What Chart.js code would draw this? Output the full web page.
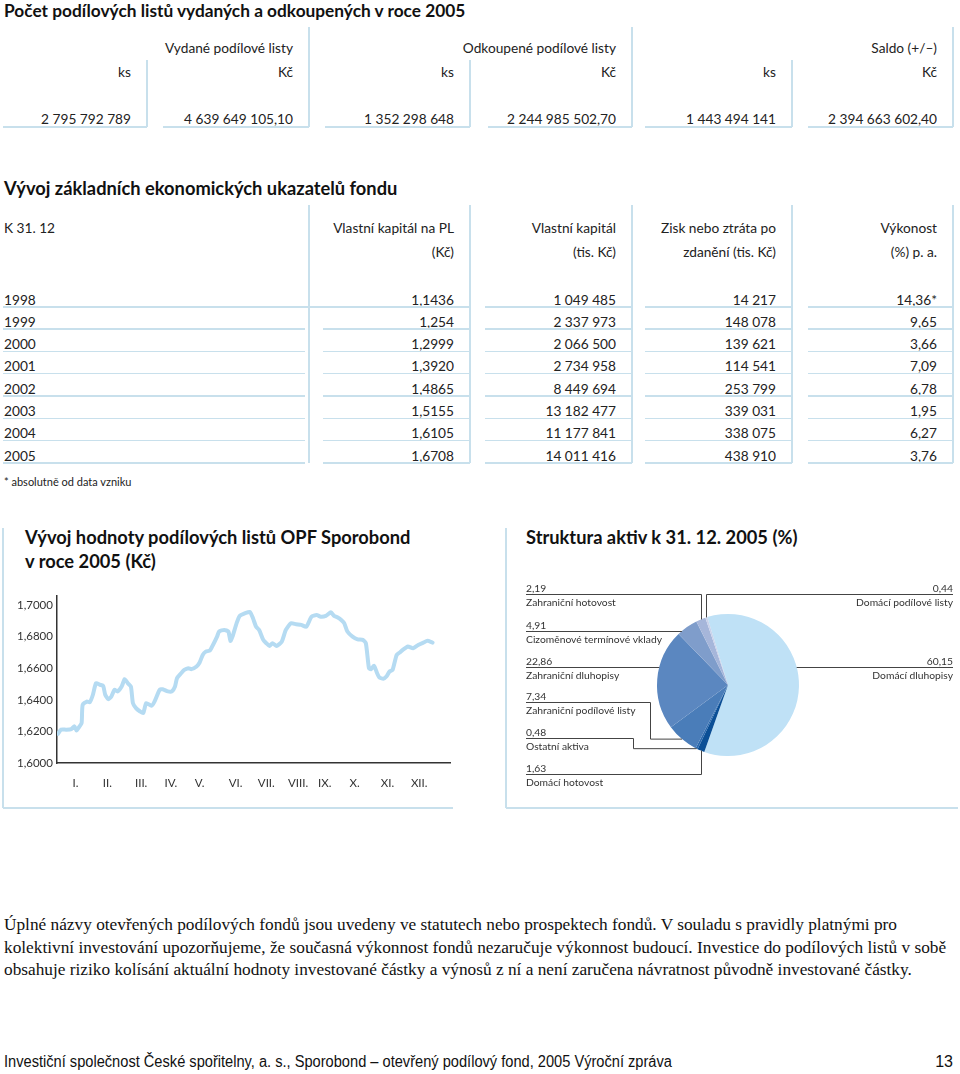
<!DOCTYPE html>
<html>
<head>
<meta charset="utf-8">
<script src="https://cdn.jsdelivr.net/npm/chart.js@4.4.0/dist/chart.umd.min.js"></script>
<style>
  body { margin: 0; width: 960px; height: 1074px; position: relative; background: #fff; overflow: hidden;
         font-family: Lato, "Noto Sans", sans-serif; color: #222; }
  .t { position: absolute; white-space: nowrap; line-height: 18px; font-size: 13.7px; }
  .h { font-size: 18.3px; font-weight: 700; color: #111; }
  .h1 { font-size: 17.3px; }
  .ln { position: absolute; background: #c8e0ec; }
  canvas { position: absolute; }
  #prose { position: absolute; left: 4px; top: 914px; font-family: "Liberation Serif", serif; font-size: 17.3px;
           line-height: 22.5px; color: #111; white-space: nowrap; }
  .foot { font-family: "Liberation Sans", sans-serif; font-size: 16px; color: #111; }
  .squeeze { transform: scaleX(0.914); transform-origin: left center; }
</style>
</head>
<body>
<div id="page"></div>
<canvas id="navChart" width="455" height="220" style="left:0;top:580px"></canvas>
<canvas id="assetChart" width="450" height="220" style="left:508px;top:580px"></canvas>
<div id="prose">Úplné názvy otevřených podílových fondů jsou uvedeny ve statutech nebo prospektech fondů. V souladu s pravidly platnými pro<br>kolektivní investování upozorňujeme, že současná výkonnost fondů nezaručuje výkonnost budoucí. Investice do podílových listů v sobě<br>obsahuje riziko kolísání aktuální hodnoty investované částky a výnosů z ní a není zaručena návratnost původně investované částky.</div>
<script>
const $ = (id) => document.getElementById(id);

// --- table 1: issued / redeemed units
const flowGroups = ["Vydané podílové listy", "Odkoupené podílové listy", "Saldo (+/–)"];
const flowUnits = ["ks", "Kč", "ks", "Kč", "ks", "Kč"];
const flowValues = ["2 795 792 789", "4 639 649 105,10", "1 352 298 648", "2 244 985 502,70", "1 443 494 141", "2 394 663 602,40"];

// --- table 2: key indicators
const indicatorHeaders = [
  ["Vlastní kapitál na PL", "(Kč)"],
  ["Vlastní kapitál", "(tis. Kč)"],
  ["Zisk nebo ztráta po", "zdanění (tis. Kč)"],
  ["Výkonost", "(%) p. a."],
];
const years = ["1998", "1999", "2000", "2001", "2002", "2003", "2004", "2005"];
const navPerUnit = ["1,1436", "1,254", "1,2999", "1,3920", "1,4865", "1,5155", "1,6105", "1,6708"];
const equity = ["1 049 485", "2 337 973", "2 066 500", "2 734 958", "8 449 694", "13 182 477", "11 177 841", "14 011 416"];
const profit = ["14 217", "148 078", "139 621", "114 541", "253 799", "339 031", "338 075", "438 910"];
const performance = ["14,36*", "9,65", "3,66", "7,09", "6,78", "1,95", "6,27", "3,76"];

// --- line chart: NAV per unit during 2005 (day of year -> Kč)
const navDays = [0, 3, 8, 13, 16, 18, 21, 23, 24, 28, 31, 34, 37, 41, 44, 46, 49, 52, 55, 58, 62, 65, 68, 71, 73, 76,
  80, 83, 86, 91, 94, 99, 102, 107, 111, 114, 116, 120, 123, 127, 130, 135, 138, 141, 144, 148, 151, 155, 157, 162,
  166, 168, 170, 174, 177, 182, 187, 190, 193, 196, 200, 203, 206, 209, 213, 218, 222, 227, 232, 237, 242, 247, 252,
  256, 261, 266, 269, 273, 276, 279, 282, 287, 292, 297, 300, 303, 305, 308, 311, 313, 317, 320, 323, 326, 330, 333,
  336, 341, 346, 351, 356, 360, 365];
const navValues = [1.6185, 1.6211, 1.6211, 1.6215, 1.6232, 1.6206, 1.6232, 1.6253, 1.6368, 1.6389, 1.6385, 1.6432,
  1.6505, 1.6495, 1.6488, 1.6432, 1.6404, 1.6421, 1.6463, 1.6453, 1.6484, 1.6531, 1.6505, 1.6484, 1.6379, 1.6347,
  1.6326, 1.6316, 1.6379, 1.6362, 1.6389, 1.6463, 1.6467, 1.6453, 1.6453, 1.6484, 1.6537, 1.6568, 1.6589, 1.6600,
  1.6594, 1.6611, 1.6636, 1.6684, 1.6705, 1.6712, 1.6747, 1.6800, 1.6832, 1.6842, 1.6832, 1.6773, 1.6800, 1.6884,
  1.6931, 1.6947, 1.6956, 1.6916, 1.6863, 1.6842, 1.6779, 1.6758, 1.6741, 1.6758, 1.6741, 1.6768, 1.6842, 1.6884,
  1.6878, 1.6874, 1.6863, 1.6926, 1.6937, 1.6926, 1.6931, 1.6954, 1.6931, 1.6920, 1.6905, 1.6884, 1.6832, 1.6800,
  1.6783, 1.6779, 1.6758, 1.6600, 1.6594, 1.6615, 1.6568, 1.6543, 1.6533, 1.6547, 1.6579, 1.6589, 1.6684, 1.6699,
  1.6716, 1.6737, 1.6726, 1.6747, 1.6762, 1.6773, 1.6762];
const monthLabels = ["I.", "II.", "III.", "IV.", "V.", "VI.", "VII.", "VIII.", "IX.", "X.", "XI.", "XII."];
const monthTickDays = [17, 48, 81, 110, 138, 173, 203, 234, 260, 289, 321, 352];
const navTicks = [1.60, 1.62, 1.64, 1.66, 1.68, 1.70];

// --- pie: asset structure (%), clockwise from the top
const assetLabels = ["Domácí dluhopisy", "Domácí hotovost", "Ostatní aktiva", "Zahraniční podílové listy",
  "Zahraniční dluhopisy", "Cizoměnové termínové vklady", "Zahraniční hotovost", "Domácí podílové listy"];
const assetValues = [60.15, 1.63, 0.48, 7.34, 22.86, 4.91, 2.19, 0.44];
const assetColors = ["#bfe1f6", "#0b4f96", "#2a68ad", "#4a7db9", "#5b87c0", "#7f9dcb", "#a6b6da", "#c9d2ea"];

// ---------- page text / table rules
const page = $("page");
function text(str, x, y, cls = "", align = "left") {
  const d = document.createElement("div");
  d.className = "t " + cls;
  d.textContent = str;
  d.style.top = (y - 9) + "px";
  if (align === "right") d.style.right = (960 - x) + "px";
  else d.style.left = x + "px";
  page.appendChild(d);
  return d;
}
function hline(x1, x2, y) {
  const d = document.createElement("div");
  d.className = "ln";
  Object.assign(d.style, { left: x1 + "px", top: y + "px", width: (x2 - x1) + "px", height: "1.5px" });
  page.appendChild(d);
}
function vline(x, y1, y2) {
  const d = document.createElement("div");
  d.className = "ln";
  Object.assign(d.style, { left: (x - 1) + "px", top: y1 + "px", width: "2px", height: (y2 - y1) + "px" });
  page.appendChild(d);
}

text("Počet podílových listů vydaných a odkoupených v roce 2005", 4, 11, "h h1");
const flowLeft = [3, 163, 325, 488, 645, 808];
const flowRight = [147, 309, 470, 632, 792, 953];
flowGroups.forEach((g, i) => text(g, flowRight[i * 2 + 1] - 16, 48, "", "right"));
flowUnits.forEach((u, i) => {
  text(u, flowRight[i] - 16, 72, "", "right");
  text(flowValues[i], flowRight[i] - 16, 119, "", "right");
  vline(flowRight[i], i % 2 ? 27 : 60, 127);
  hline(flowLeft[i], flowRight[i], 126);
});

text("Vývoj základních ekonomických ukazatelů fondu", 4, 188, "h");
text("K 31. 12", 4, 228);
const indLeft = [323, 485, 645, 808];
const indRight = [470, 632, 792, 953];
indicatorHeaders.forEach((h, i) => {
  text(h[0], indRight[i] - 16, 228, "", "right");
  text(h[1], indRight[i] - 16, 252, "", "right");
});
[309, 470, 632, 792, 953].forEach((x) => vline(x, 205, 463));
const indColumns = [navPerUnit, equity, profit, performance];
years.forEach((yr, r) => {
  const base = 306 + r * 22.3;
  text(yr, 4, base - 6.5);
  hline(3, r === 0 ? 470 : 305, base);
  indColumns.forEach((col, i) => {
    text(col[r], indRight[i] - 16, base - 6.5, "", "right");
    hline(indLeft[i], indRight[i], base);
  });
});
text("* absolutně od data vzniku", 4, 482).style.fontSize = "11px";

// chart boxes
vline(3, 528, 808); hline(3, 453, 807);
vline(506, 528, 808); hline(506, 958, 807);
text("Vývoj hodnoty podílových listů OPF Sporobond", 25, 537, "h");
text("v roce 2005 (Kč)", 25, 561, "h");
text("Struktura aktiv k 31. 12. 2005 (%)", 526, 537, "h");

text("Investiční společnost České spořitelny, a. s., Sporobond – otevřený podílový fond, 2005 Výroční zpráva", 4, 1062, "foot squeeze");
text("13", 953, 1062, "foot", "right");

// ---------- line chart
const axisFont = { family: "Lato, 'Noto Sans', sans-serif", size: 11.5 };
new Chart($("navChart").getContext("2d"), {
  type: "line",
  data: {
    datasets: [{
      data: navDays.map((d, i) => ({ x: d, y: navValues[i] })),
      borderColor: "#b5dbf2", borderWidth: 4, pointRadius: 0, tension: 0.2,
      borderJoinStyle: "round", borderCapStyle: "round",
    }],
  },
  options: {
    responsive: false, animation: false, devicePixelRatio: 1,
    layout: { padding: { top: 16, right: 5, left: 17, bottom: 0 } },
    plugins: { legend: { display: false }, tooltip: { enabled: false } },
    scales: {
      x: {
        type: "linear", min: -1, max: 382,
        afterBuildTicks: (s) => { s.ticks = monthTickDays.map((v) => ({ value: v })); },
        afterFit: (s) => { s.height = 37; },
        ticks: { color: "#333", font: axisFont, padding: 13, autoSkip: false, maxRotation: 0,
          callback: (v) => monthLabels[monthTickDays.indexOf(v)] },
        grid: { display: false, drawTicks: false },
        border: { color: "#333", width: 1.5 },
      },
      y: {
        min: 1.6, max: 1.7057,
        afterBuildTicks: (s) => { s.ticks = navTicks.map((v) => ({ value: v })); },
        afterFit: (s) => { s.width = 40; },
        ticks: { color: "#333", font: axisFont, crossAlign: "far", padding: 4,
          callback: (v) => v.toFixed(4).replace(".", ",") },
        grid: { display: false, drawTicks: false },
        border: { color: "#333", width: 1.5 },
      },
    },
  },
});

// ---------- pie chart with leader labels
// label layout: underline y (canvas coords), side, how the leader reaches the slice
const pieLabelLayout = [
  { i: 6, side: "left", y: 14, mode: "mid" },
  { i: 5, side: "left", y: 51, mode: "level" },
  { i: 4, side: "left", y: 87, mode: "level" },
  { i: 3, side: "left", y: 122, mode: "elbow", elbowX: 142 },
  { i: 2, side: "left", y: 158, mode: "elbow", elbowX: 125 },
  { i: 1, side: "left", y: 194, mode: "mid" },
  { i: 7, side: "right", y: 14, mode: "mid" },
  { i: 0, side: "right", y: 87, mode: "level" },
];

const leaderPlugin = {
  id: "leaders",
  afterDraw(chart) {
    const ctx = chart.ctx;
    const arcs = chart.getDatasetMeta(0).data;
    ctx.save();
    ctx.strokeStyle = "#444";
    ctx.lineWidth = 1;
    ctx.fillStyle = "#333";
    ctx.font = "10.3px Lato, 'Noto Sans', sans-serif";
    ctx.textBaseline = "middle";
    pieLabelLayout.forEach((L) => {
      const a = arcs[L.i];
      const r = a.outerRadius;
      const startX = L.side === "left" ? 18 : 445;
      ctx.beginPath();
      ctx.moveTo(startX, L.y + 0.5);
      if (L.mode === "level") {
        const dx = Math.sqrt(Math.max(r * r - (L.y - a.y) ** 2, 0));
        ctx.lineTo(L.side === "left" ? a.x - dx : a.x + dx, L.y + 0.5);
      } else {
        const mid = (a.startAngle + a.endAngle) / 2;
        const ax = a.x + r * Math.cos(mid);
        const ay = a.y + r * Math.sin(mid);
        if (L.mode === "elbow") {
          ctx.lineTo(L.elbowX + 0.5, L.y + 0.5);
          ctx.lineTo(L.elbowX + 0.5, ay);
          ctx.lineTo(ax, ay);
        } else {
          ctx.lineTo(Math.round(ax) + 0.5, L.y + 0.5);
          ctx.lineTo(Math.round(ax) + 0.5, ay);
        }
      }
      ctx.stroke();
      ctx.textAlign = L.side === "left" ? "left" : "right";
      ctx.fillText(assetValues[L.i].toFixed(2).replace(".", ","), startX, L.y - 5);
      ctx.fillText(assetLabels[L.i], startX, L.y + 9);
    });
    ctx.restore();
  },
};

new Chart($("assetChart").getContext("2d"), {
  type: "pie",
  data: {
    labels: assetLabels,
    datasets: [{ data: assetValues, backgroundColor: assetColors, borderWidth: 0 }],
  },
  options: {
    responsive: false, animation: false, devicePixelRatio: 1,
    rotation: -17,
    layout: { padding: { left: 149, right: 159, top: 34, bottom: 44 } },
    plugins: { legend: { display: false }, tooltip: { enabled: false } },
  },
  plugins: [leaderPlugin],
});
</script>
</body>
</html>
